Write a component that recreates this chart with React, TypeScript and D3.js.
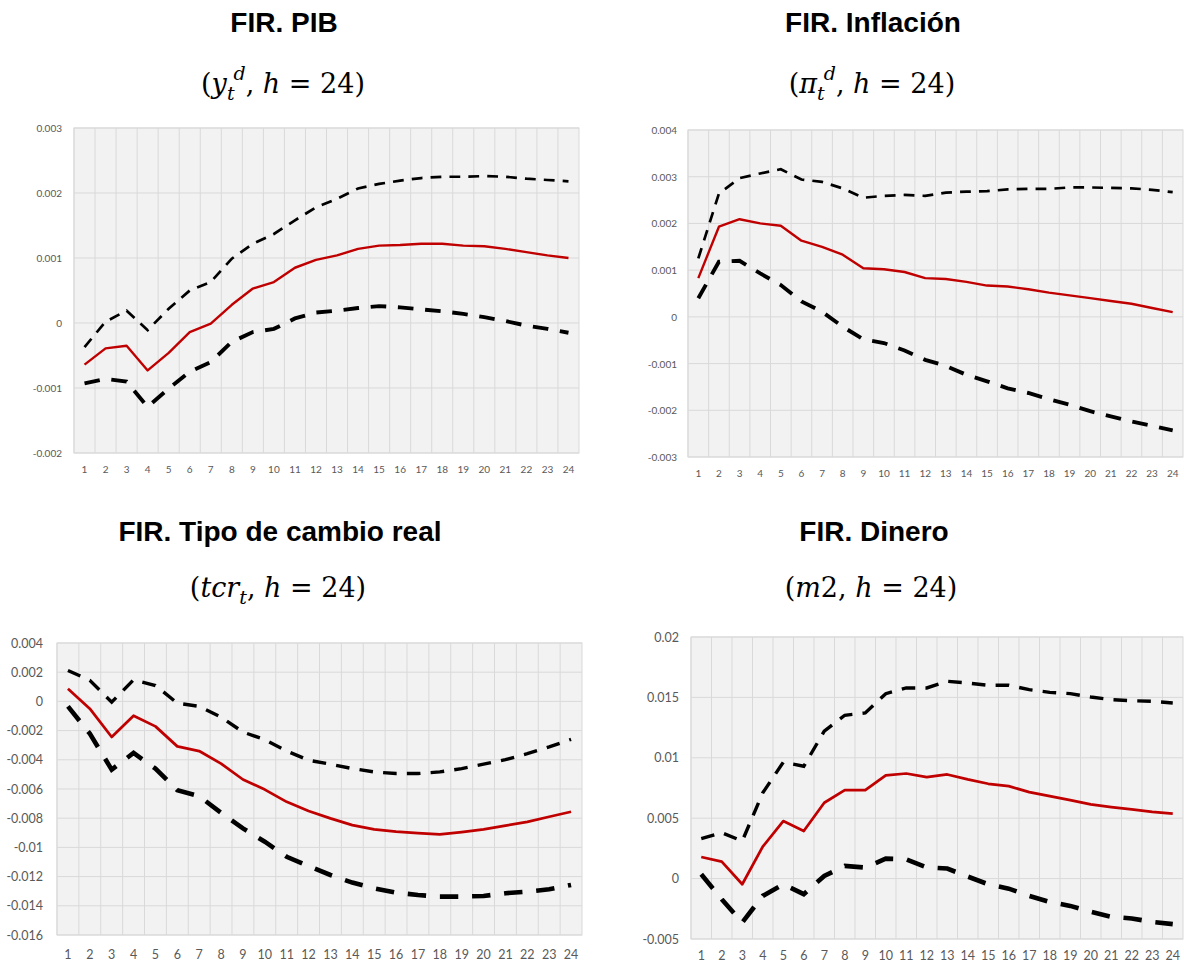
import * as d3 from "d3";
import React from "react";

// horizons 1..24 (x categories)
const horizons = [1, 2, 3, 4, 5, 6, 7, 8, 9, 10, 11, 12, 13, 14, 15, 16, 17, 18, 19, 20, 21, 22, 23, 24];

// FIR. PIB
const pibTicks = [-0.002, -0.001, 0, 0.001, 0.002, 0.003];
const pibMid = [-0.00064, -0.00039, -0.00035, -0.00073, -0.00046, -0.00014, -0.00001, 0.00028, 0.00053, 0.00063, 0.00085, 0.00097, 0.00104, 0.00114, 0.00119, 0.0012, 0.00122, 0.00122, 0.00119, 0.00118, 0.00114, 0.00109, 0.00104, 0.001];
const pibUp = [-0.00037, 0.00002, 0.00019, -0.00011, 0.00022, 0.0005, 0.00063, 0.00099, 0.00122, 0.00137, 0.00158, 0.00178, 0.00191, 0.00207, 0.00214, 0.00219, 0.00223, 0.00225, 0.00225, 0.00226, 0.00225, 0.00222, 0.0022, 0.00218];
const pibLow = [-0.00093, -0.00086, -0.0009, -0.00129, -0.00101, -0.00075, -0.0006, -0.00029, -0.00014, -0.00009, 0.00007, 0.00016, 0.00019, 0.00023, 0.00026, 0.00024, 0.00021, 0.00018, 0.00014, 0.00009, 0.00003, -0.00004, -0.00009, -0.00015];

// FIR. Inflación
const inflTicks = [-0.003, -0.002, -0.001, 0, 0.001, 0.002, 0.003, 0.004];
const inflMid = [0.00083, 0.00193, 0.00209, 0.002, 0.00195, 0.00163, 0.0015, 0.00133, 0.00104, 0.00102, 0.00096, 0.00083, 0.00081, 0.00075, 0.00067, 0.00065, 0.00059, 0.00052, 0.00046, 0.0004, 0.00034, 0.00028, 0.00019, 0.0001];
const inflUp = [0.00125, 0.00264, 0.00297, 0.00307, 0.00316, 0.00294, 0.00289, 0.00275, 0.00255, 0.00259, 0.00261, 0.00259, 0.00266, 0.00268, 0.00269, 0.00273, 0.00274, 0.00274, 0.00277, 0.00277, 0.00276, 0.00275, 0.00272, 0.00267];
const inflLow = [0.0004, 0.00118, 0.0012, 0.00093, 0.00068, 0.00033, 0.00011, -0.00021, -0.00048, -0.00056, -0.00072, -0.00092, -0.00105, -0.00124, -0.00138, -0.00153, -0.00163, -0.00176, -0.00188, -0.00202, -0.00213, -0.00224, -0.00233, -0.00243];

// FIR. Tipo de cambio real
const tcrTicks = [-0.016, -0.014, -0.012, -0.01, -0.008, -0.006, -0.004, -0.002, 0, 0.002, 0.004];
const tcrMid = [0.00087, -0.0005, -0.00244, -0.00098, -0.00171, -0.00308, -0.0034, -0.00426, -0.00535, -0.00604, -0.00688, -0.00751, -0.00801, -0.00847, -0.00876, -0.00892, -0.00903, -0.00911, -0.00895, -0.00876, -0.00851, -0.00825, -0.0079, -0.00756];
const tcrUp = [0.00212, 0.00144, -0.00005, 0.00148, 0.00109, -0.00012, -0.00034, -0.00107, -0.0021, -0.00262, -0.0034, -0.00403, -0.0043, -0.0046, -0.00483, -0.00494, -0.00494, -0.00483, -0.0046, -0.0043, -0.00399, -0.00358, -0.00312, -0.0026];
const tcrLow = [-0.00034, -0.00221, -0.00467, -0.00353, -0.0046, -0.00608, -0.00649, -0.00763, -0.0087, -0.00961, -0.01064, -0.01128, -0.01189, -0.01241, -0.0128, -0.0131, -0.01326, -0.01337, -0.01337, -0.01333, -0.01314, -0.01303, -0.01287, -0.01257];

// FIR. Dinero
const m2Ticks = [-0.005, 0, 0.005, 0.01, 0.015, 0.02];
const m2Mid = [0.00179, 0.0014, -0.00047, 0.00264, 0.00476, 0.00394, 0.00628, 0.00732, 0.00732, 0.00854, 0.0087, 0.0084, 0.00862, 0.00821, 0.00785, 0.00765, 0.00716, 0.00683, 0.0065, 0.00614, 0.00592, 0.00573, 0.00553, 0.00537];
const m2Up = [0.0033, 0.0038, 0.00311, 0.0071, 0.00963, 0.0093, 0.0122, 0.01352, 0.01371, 0.01531, 0.01578, 0.01578, 0.01633, 0.01619, 0.016, 0.016, 0.01564, 0.01542, 0.01531, 0.01503, 0.01481, 0.01473, 0.01468, 0.01454];
const m2Low = [0.00036, -0.00171, -0.00363, -0.00143, -0.00047, -0.00129, 0.00022, 0.00105, 0.00091, 0.00165, 0.0016, 0.00093, 0.00083, 0.00017, -0.00047, -0.00083, -0.00143, -0.00193, -0.00226, -0.00275, -0.00316, -0.0033, -0.00358, -0.00377];

const titleFont = "'Liberation Sans', Arial, sans-serif";
const mathFont = "'DejaVu Serif', 'Liberation Serif', serif";
const tickFont = "Lato, 'Open Sans', sans-serif";

type PanelProps = {
  left: number;
  right: number;
  top: number;
  bottom: number;
  ticks: number[];
  mid: number[];
  up: number[];
  low: number[];
  fontSize: number;
  labelGap: number;
  xLabelY: number;
  big?: boolean;
};

function Panel({ left, right, top, bottom, ticks, mid, up, low, fontSize, labelGap, xLabelY, big }: PanelProps) {
  const x = d3.scaleBand<number>().domain(horizons).range([left, right]);
  const y = d3.scaleLinear().domain([ticks[0], ticks[ticks.length - 1]]).range([bottom, top]);
  const bw = x.bandwidth();
  const line = d3
    .line<number>()
    .x((_, i) => (x(horizons[i]) as number) + bw / 2)
    .y((d) => y(d));
  const upW = big ? 3.4 : 2.7;
  const lowW = big ? 4.6 : 3.9;
  const redW = big ? 2.75 : 2.4;
  return (
    <g>
      <rect x={left} y={top} width={right - left} height={bottom - top} fill="#f2f2f2" stroke="#d9d9d9" strokeWidth={1} />
      {ticks.map((t) => (
        <line key={"h" + t} x1={left} x2={right} y1={y(t)} y2={y(t)} stroke="#d9d9d9" strokeWidth={1} />
      ))}
      {horizons.map((h) => (
        <line key={"v" + h} x1={x(h) as number} x2={x(h) as number} y1={top} y2={bottom} stroke="#d9d9d9" strokeWidth={1} />
      ))}
      <path d={line(up) as string} fill="none" stroke="#000" strokeWidth={upW} strokeDasharray={`${upW * 4} ${upW * 3}`} />
      <path d={line(low) as string} fill="none" stroke="#000" strokeWidth={lowW} strokeDasharray={`${lowW * 4} ${lowW * 3}`} />
      <path d={line(mid) as string} fill="none" stroke="#c00000" strokeWidth={redW} strokeLinejoin="round" />
      <g fontFamily={tickFont} fontSize={fontSize} fill="#595959">
        {ticks.map((t) => (
          <text key={"yl" + t} x={left - labelGap} y={y(t)} textAnchor="end" dominantBaseline="central">
            {String(t)}
          </text>
        ))}
        {horizons.map((h) => (
          <text key={"xl" + h} x={(x(h) as number) + bw / 2} y={xLabelY} textAnchor="middle" dominantBaseline="central">
            {h}
          </text>
        ))}
      </g>
    </g>
  );
}

function Title({ cx, y, text }: { cx: number; y: number; text: string }) {
  return (
    <text x={cx} y={y} textAnchor="middle" fontFamily={titleFont} fontWeight="bold" fontSize={28} fill="#000">
      {text}
    </text>
  );
}

export default function App() {
  const sub = { fontFamily: mathFont, fontSize: 27, fill: "#000" };
  return (
    <svg width={1184} height={963} style={{ position: "absolute", left: 0, top: 0, background: "#fff" }}>
      <Title cx={284} y={32} text="FIR. PIB" />
      <Title cx={873} y={32} text="FIR. Inflación" />
      <Title cx={280} y={541} text="FIR. Tipo de cambio real" />
      <Title cx={874} y={541} text="FIR. Dinero" />

      <text x={283} y={93} textAnchor="middle" {...sub}>
        (<tspan fontStyle="italic">y</tspan>
        <tspan fontStyle="italic" fontSize={19} dy={7}>t</tspan>
        <tspan fontStyle="italic" fontSize={19} dy={-20} dx={-1}>d</tspan>
        <tspan dy={13}>, </tspan>
        <tspan fontStyle="italic"> h</tspan> = 24)
      </text>
      <text x={872} y={93} textAnchor="middle" {...sub}>
        (<tspan fontStyle="italic">π</tspan>
        <tspan fontStyle="italic" fontSize={19} dy={7}>t</tspan>
        <tspan fontStyle="italic" fontSize={19} dy={-20} dx={-1}>d</tspan>
        <tspan dy={13}>, </tspan>
        <tspan fontStyle="italic"> h</tspan> = 24)
      </text>
      <text x={278} y={597} textAnchor="middle" {...sub}>
        (<tspan fontStyle="italic">tcr</tspan>
        <tspan fontStyle="italic" fontSize={19} dy={7}>t</tspan>
        <tspan dy={-7}>, </tspan>
        <tspan fontStyle="italic"> h</tspan> = 24)
      </text>
      <text x={871} y={597} textAnchor="middle" {...sub}>
        (<tspan fontStyle="italic">m</tspan>2, <tspan fontStyle="italic"> h</tspan> = 24)
      </text>

      <Panel left={74} right={579} top={128} bottom={453} ticks={pibTicks} mid={pibMid} up={pibUp} low={pibLow} fontSize={10} labelGap={12} xLabelY={469} />
      <Panel left={688} right={1183} top={130} bottom={457} ticks={inflTicks} mid={inflMid} up={inflUp} low={inflLow} fontSize={10} labelGap={11} xLabelY={473} />
      <Panel left={57} right={582} top={643} bottom={935} ticks={tcrTicks} mid={tcrMid} up={tcrUp} low={tcrLow} fontSize={12.5} labelGap={14} xLabelY={954} big />
      <Panel left={691} right={1183} top={637} bottom={939} ticks={m2Ticks} mid={m2Mid} up={m2Up} low={m2Low} fontSize={12.5} labelGap={12} xLabelY={955} big />
    </svg>
  );
}
